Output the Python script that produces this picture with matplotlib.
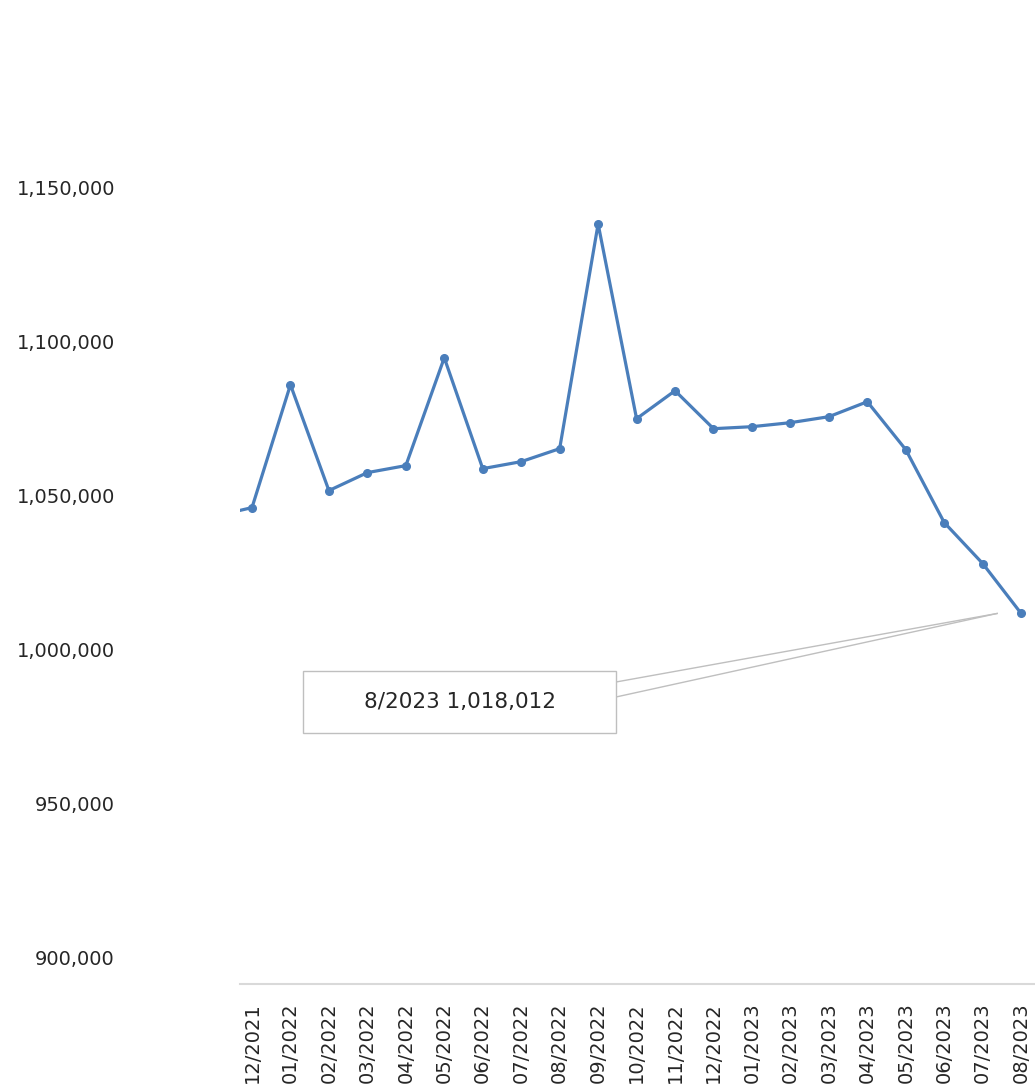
import matplotlib
matplotlib.use("Agg")
import matplotlib.pyplot as plt
from matplotlib.patches import Rectangle
from matplotlib.lines import Line2D

months = ["11/2021", "12/2021", "01/2022", "02/2022", "03/2022", "04/2022", "05/2022",
          "06/2022", "07/2022", "08/2022", "09/2022", "10/2022", "11/2022", "12/2022",
          "01/2023", "02/2023", "03/2023", "04/2023", "05/2023", "06/2023", "07/2023",
          "08/2023"]
values = [1043100, 1046000, 1085860, 1051520, 1057350, 1059620, 1094610,
          1058640, 1060910, 1065120, 1138020, 1074840, 1083920, 1071600,
          1072250, 1073550, 1075490, 1080350, 1064800, 1041150, 1027860,
          1011660]
yticks = [900000, 950000, 1000000, 1050000, 1100000, 1150000]
callout_text = "8/2023 1,018,012"

W, H = 1035, 1092
fig = plt.figure(figsize=(W / 100, H / 100), dpi=100)
fig.patch.set_facecolor("white")

ax_left, ax_right, ax_bottom, ax_top = 240, 1035, 984, 101
ax = fig.add_axes([ax_left / W, 1 - ax_bottom / H, (ax_right - ax_left) / W, (ax_bottom - ax_top) / H])

x = list(range(len(months)))
ax.plot(x, values, color="#4a7ebb", linewidth=2.3, marker="o", markersize=5.5,
        solid_joinstyle="round", clip_on=True)

ax.set_xticks(x)
ax.set_xticklabels(months, rotation=90, fontsize=14, color="#262626", va="top")
ax.set_yticks(yticks)
ax.set_yticklabels([f"{v:,}" for v in yticks], fontsize=14, color="#262626")
ax.tick_params(axis="x", length=0, pad=13)
ax.tick_params(axis="y", length=0, pad=90)

ax.set_xlim(0.688, 21.36)
ax.set_ylim(891460, 1177900)

for s in ["top", "right", "left"]:
    ax.spines[s].set_visible(False)
ax.spines["bottom"].set_color("#d9d9d9")
ax.spines["bottom"].set_linewidth(1.5)

# callout box (figure pixel layout)
bx0, bx1, by0, by1 = 303, 616, 671, 733
fig.patches.append(Rectangle((bx0 / W, 1 - by1 / H), (bx1 - bx0) / W, (by1 - by0) / H,
                             transform=fig.transFigure, facecolor="white",
                             edgecolor="#bfbfbf", linewidth=1.0, zorder=5))
fig.text((bx0 + bx1) / 2 / W, 1 - (by0 + by1) / 2 / H, callout_text, ha="center",
         va="center", fontsize=15.5, color="#262626", zorder=6)

# leader wedge pointing at last point
px, py = ax.transData.transform((x[-1], values[-1]))
tipx, tipy = (px - 24) / W, py / H
for yy in (682, 697):
    fig.lines.append(Line2D([bx1 / W, tipx], [1 - yy / H, tipy], transform=fig.transFigure,
                            color="#bfbfbf", linewidth=1.0, zorder=4))

fig.savefig("out.png", dpi=100, facecolor="white")
